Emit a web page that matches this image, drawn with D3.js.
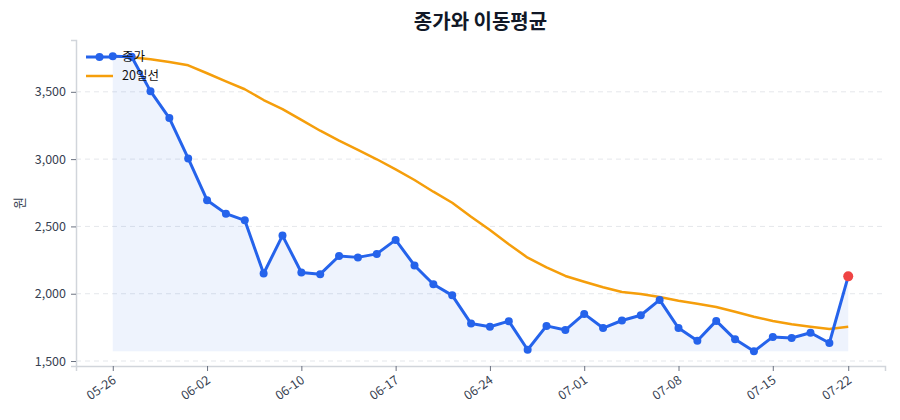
<!DOCTYPE html>
<html>
<head>
<meta charset="utf-8">
<script src="https://cdn.jsdelivr.net/npm/d3@7"></script>
<style>
  body { margin: 0; background: #fff; font-family: "Noto Sans CJK KR", "Noto Sans", sans-serif; }
</style>
</head>
<body>
<div id="chart"></div>
<script>
// trading days (index based x axis)
const dates = [
  "05-26","05-27","05-28","05-29","05-30",
  "06-02","06-04","06-05","06-06","06-09",
  "06-10","06-11","06-12","06-13","06-16",
  "06-17","06-18","06-19","06-20","06-23",
  "06-24","06-25","06-26","06-27","06-30",
  "07-01","07-02","07-03","07-04","07-07",
  "07-08","07-09","07-10","07-11","07-14",
  "07-15","07-16","07-18","07-21","07-22"
];
const close = [
  3765, 3760, 3505, 3305, 3005, 2695, 2595, 2545, 2150, 2432,
  2158, 2145, 2280, 2270, 2296, 2400, 2210, 2070, 1988, 1778,
  1755, 1796, 1584, 1761, 1730, 1850, 1745, 1801, 1840, 1954,
  1745, 1651, 1798, 1661, 1572, 1679, 1671, 1710, 1634, 2129
];
const ma20 = [
  3765, 3757, 3742, 3722, 3697, 3638, 3578, 3519, 3439, 3372,
  3291, 3211, 3137, 3068, 2999, 2924, 2845, 2758, 2676, 2572,
  2473, 2367, 2268, 2196, 2132, 2089, 2048, 2013, 1998, 1975,
  1948, 1926, 1901, 1866, 1829, 1797, 1773, 1755, 1738, 1755
];
const yTicks = [1500, 2000, 2500, 3000, 3500];
const xTickIdx = [0, 5, 10, 15, 20, 25, 30, 35, 39];

const W = 900, H = 420;
const M = { left: 76, right: 15, top: 40, bottom: 54 };
const FONT = '"Noto Sans CJK KR", "Noto Sans", sans-serif';

const svg = d3.select("#chart").append("svg")
  .attr("width", W).attr("height", H)
  .attr("xmlns", "http://www.w3.org/2000/svg");

const x = d3.scaleLinear().domain([-1.95, 40.95]).range([M.left, W - M.right]);
const y = d3.scaleLinear().domain([1463, 3885]).range([H - M.bottom, M.top]);

// grid
svg.append("g")
  .selectAll("line").data(yTicks).join("line")
  .attr("x1", M.left).attr("x2", W - M.right)
  .attr("y1", d => y(d)).attr("y2", d => y(d))
  .attr("stroke", "#e5e7eb").attr("stroke-width", 1)
  .attr("stroke-dasharray", "5,4");

// area under close
const base = d3.min(close);
const area = d3.area()
  .x((d, i) => x(i)).y0(y(base)).y1(d => y(d));
svg.append("path").datum(close)
  .attr("d", area)
  .attr("fill", "#2563eb").attr("fill-opacity", 0.08);

// axes
const yAxis = svg.append("g")
  .attr("transform", `translate(${M.left},0)`)
  .call(d3.axisLeft(y).tickValues(yTicks).tickFormat(d3.format(",")).tickSize(5).tickPadding(5));
const xAxis = svg.append("g")
  .attr("transform", `translate(0,${H - M.bottom})`)
  .call(d3.axisBottom(x).tickValues(xTickIdx).tickFormat(i => dates[i]).tickSize(5).tickPadding(4));

[yAxis, xAxis].forEach(a => {
  a.select(".domain").attr("stroke", "#d1d5db").attr("stroke-width", 1.5);
  a.selectAll(".tick line").attr("stroke", "#6b7280");
  a.selectAll("text").attr("fill", "#374151").style("font-size", "12.5px")
    .style("font-family", FONT);
});
xAxis.selectAll("text")
  .attr("text-anchor", "end")
  .attr("dx", "-0.5em").attr("dy", "0.5em")
  .attr("transform", "rotate(-35)");

// MA line
svg.append("path").datum(ma20)
  .attr("d", d3.line().x((d, i) => x(i)).y(d => y(d)))
  .attr("fill", "none").attr("stroke", "#f59e0b").attr("stroke-width", 2.5)
  .attr("stroke-linejoin", "round");

// close line
svg.append("path").datum(close)
  .attr("d", d3.line().x((d, i) => x(i)).y(d => y(d)))
  .attr("fill", "none").attr("stroke", "#2563eb").attr("stroke-width", 3)
  .attr("stroke-linejoin", "round");

svg.append("g").selectAll("circle").data(close.slice(0, -1)).join("circle")
  .attr("cx", (d, i) => x(i)).attr("cy", d => y(d)).attr("r", 4)
  .attr("fill", "#2563eb");

const last = close.length - 1;
svg.append("circle")
  .attr("cx", x(last)).attr("cy", y(close[last])).attr("r", 5)
  .attr("fill", "#ef4444");

// title
svg.append("text")
  .attr("x", (M.left + W - M.right) / 2).attr("y", 29)
  .attr("text-anchor", "middle")
  .style("font-size", "20px").style("font-weight", "bold")
  .style("font-family", FONT)
  .attr("fill", "#111827")
  .text("종가와 이동평균");

// y label
svg.append("text")
  .attr("transform", `translate(24,${(M.top + H - M.bottom) / 2}) rotate(-90)`)
  .attr("text-anchor", "middle")
  .style("font-size", "13px").style("font-family", FONT).attr("fill", "#374151")
  .text("원");

// legend
const lg = svg.append("g").attr("transform", "translate(86,57)");
lg.append("line").attr("x1", 0).attr("x2", 27).attr("y1", 0).attr("y2", 0)
  .attr("stroke", "#2563eb").attr("stroke-width", 3);
lg.append("circle").attr("cx", 13.5).attr("cy", 0).attr("r", 4).attr("fill", "#2563eb");
lg.append("text").attr("x", 36).attr("y", 0).attr("dy", "0.35em")
  .style("font-size", "12.5px").style("font-family", FONT).attr("fill", "#111").text("종가");
lg.append("line").attr("x1", 0).attr("x2", 27).attr("y1", 19).attr("y2", 19)
  .attr("stroke", "#f59e0b").attr("stroke-width", 2.5);
lg.append("text").attr("x", 36).attr("y", 19).attr("dy", "0.35em")
  .style("font-size", "12.5px").style("font-family", FONT).attr("fill", "#111").text("20일선");
</script>
</body>
</html>
